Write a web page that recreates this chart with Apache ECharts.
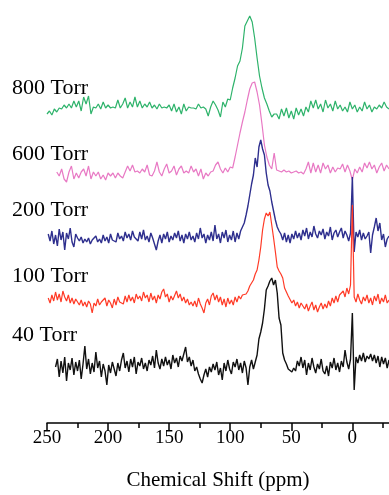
<!DOCTYPE html>
<html>
<head>
<meta charset="utf-8">
<title>Chemical Shift spectra</title>
<script src="https://cdn.jsdelivr.net/npm/echarts@6/dist/echarts.min.js"></script>
<style>
  html, body { margin: 0; padding: 0; background: #fff; }
  #chart { width: 389px; height: 495px; }
</style>
</head>
<body>
<div id="chart"></div>
<script>
// Tick positions on the chemical-shift axis (ppm)
const majorTicks = [250, 200, 150, 100, 50, 0];
const minorTicks = [225, 175, 125, 75, 25, -25];

// Spectrum labels, top to bottom
const labels = ['800 Torr', '600 Torr', '200 Torr', '100 Torr', '40 Torr'];

// Sampling of each spectrum: first ppm value and spacing (ppm)
const startPpm = [250, 242, 249, 249, 243];
const stepPpm = [2, 2, 1.5, 1.5, 1.5];

// Intensities (arbitrary units, baseline = 0)
const torr800 = [
  -6,-3,-7,-1,-4,0,-1,3,0,4,
  0,7,1,7,-3,11,4,12,-6,1,
  0,4,-1,6,0,3,0,1,0,8,
  0,4,10,0,6,1,11,1,7,0,
  4,1,6,0,3,-1,4,0,1,0,
  3,-3,4,-4,1,-6,4,-3,1,0,
  0,-1,4,0,1,-1,-8,1,7,3,
  -2,-9,6,1,9,8,20,30,42,47,
  60,82,87,92,86,70,50,32,20,10,
  4,-3,-9,-6,
  -6,-11,-1,-8,0,-10,-3,-11,0,-7,
  -1,-8,1,-4,7,0,8,-1,4,-4,
  8,0,4,-3,7,-1,3,-3,1,-4,
  6,-1,3,-4,1,-3,6,-1,3,-4,
  1,-1,3,0,6,1,-1
];

const torr600 = [
  0,-4,3,-7,-10,0,6,-7,-1,-6,
  0,3,-4,6,-7,0,-4,0,-7,-3,
  -8,-1,-4,-1,-6,-1,-4,-6,0,6,
  1,7,0,1,-1,3,0,7,-3,-4,
  1,10,0,-4,3,8,-1,1,6,-3,
  3,6,-1,1,-1,6,0,3,-4,3,
  -7,-1,-4,0,1,7,10,
  3,-1,4,0,5,4,15,27,39,50,
  60,72,83,89,90,80,67,48,27,15,
  7,3,19,2,
  1,0,2,0,1,-1,0,1,-1,0,-2,
  3,10,-1,9,0,7,-1,9,3,7,
  -1,5,0,4,3,8,0,7,1,-8,
  3,-1,5,0,9,4,10,3,7,-1,
  5,9,1,7,3
];

const torr200 = [
  3,-4,6,-7,2,-9,8,-3,5,-13,
  4,-2,9,-5,-10,3,-1,-4,0,-6,
  -2,-5,-1,-7,-3,-4,1,-5,-2,-6,
  2,-4,0,-6,3,-3,-1,-5,4,-2,
  1,-4,5,-1,3,-3,6,0,2,-4,
  5,-2,7,-3,1,-5,4,-1,-2,-13,
  -4,2,-6,3,-2,5,-5,1,-3,4,
  -1,6,-4,2,-6,3,-2,5,-3,1,
  -5,4,-2,9,-1,3,-6,2,-3,5,
  -4,12,-2,3,-6,5,-1,7,-5,2,
  -3,6,-5,4,-2,6,7,14,22,31,
  42,53,62,79,70,90,97,88,82,64,
  52,46,35,26,17,10,6,3,-3,4,
  -5,2,-6,3,-2,6,-1,4,-3,7,
  1,9,-2,5,0,11,3,-1,6,2,
  8,-2,5,1,10,-3,4,7,0,5,
  9,-1,6,2,-4,4,60,
  -15,5,0,7,-3,4,-2,1,5,-16,
  2,10,19,6,14,-3,3,-10,-2,1
];

const torr100 = [
  2,-3,5,-1,8,0,6,-2,9,3,
  -1,5,-3,2,-4,1,-2,-5,0,-6,
  -2,-7,-1,-4,-13,-3,-6,1,-5,-2,
  -4,2,-6,0,-3,-8,1,-5,3,-2,
  0,-4,4,-2,5,-1,3,-3,6,1,
  4,-1,8,2,5,-2,7,0,4,-3,
  5,1,8,11,3,6,-2,4,0,-1,
  9,2,6,-1,3,-3,1,-5,-2,-6,
  -1,-7,2,-4,-8,-13,-3,1,-5,4,
  7,0,5,-2,3,-5,1,-7,2,-4,
  0,-5,3,-2,4,1,5,3,6,9,
  14,17,20,26,30,40,53,70,81,87,
  84,88,75,62,48,33,29,26,22,12,
  8,4,2,-3,0,-6,-2,-8,-3,-5,
  -9,-4,-11,-6,-2,-10,-5,-12,-7,-3,
  -9,-4,-8,-1,-6,2,-3,4,-2,5,
  4,9,3,12,6,15,95,
  3,-2,6,0,-4,3,-1,5,-3,2,
  -5,4,-1,6,-4,2,-2,5,-3,0
];

const torr40 = [
  -2,6,-12,4,-8,8,-16,2,-5,7,
  -10,3,-6,5,-14,1,19,-4,6,-9,
  2,-7,13,-3,4,-12,1,-6,-20,0,
  -8,3,-4,-11,2,-6,5,12,-3,4,
  -7,6,-2,8,-9,3,-1,7,-4,2,
  -6,5,0,9,-3,15,2,-4,6,-1,
  8,0,5,-4,10,2,7,-2,9,4,
  6,18,3,8,-1,5,-6,-2,-9,-14,
  -18,-10,-4,-12,-2,-7,1,-5,3,-10,
  -3,-15,2,-6,5,-4,-9,3,-2,6,
  -5,2,-8,4,-3,-20,-2,5,-4,
  3,10,26,33,42,56,75,79,84,87,80,85,72,47,40,12,5,1,
  -4,-2,-7,-3,-6,4,-1,8,-3,5,
  -10,2,-5,7,-2,-8,1,-4,6,-6,
  -9,-1,-11,3,-3,7,-5,2,-7,4,
  -2,15,3,-4,6,52,
  -25,8,2,10,4,12,3,9,6,11,
  4,10,2,9,-2,8,1,7,-3,5
];

const spectra = [torr800, torr600, torr200, torr100, torr40];

// Vertical stacking of the traces (same units as the hidden y axis)
const stackOffsets = [315, 251, 186, 123, 58];
// Label anchor heights (pixels from top)
const labelY = [88, 154, 210, 276, 335];
const colors = ['#2eb36b', '#e879c4', '#2e2f8e', '#ff3a26', '#111111'];
const widths = [1.2, 1.2, 1.4, 1.2, 1.4];

const serif = '"Liberation Serif", "Times New Roman", serif';

const series = spectra.map((vals, s) => ({
  name: labels[s],
  type: 'line',
  showSymbol: false,
  symbol: 'none',
  animation: false,
  clip: true,
  lineStyle: { color: colors[s], width: widths[s] },
  data: vals.map((v, i) => [startPpm[s] - i * stepPpm[s], stackOffsets[s] + v])
}));

const chart = echarts.init(document.getElementById('chart'), null, { renderer: 'canvas' });
chart.setOption({
  backgroundColor: '#fff',
  animation: false,
  textStyle: { fontFamily: serif },
  grid: { left: 47, right: 0, top: 0, bottom: 72, outerBoundsMode: 'none' },
  xAxis: [
    {
      type: 'value',
      inverse: true,
      min: -30,
      max: 250,
      position: 'bottom',
      name: 'Chemical Shift (ppm)',
      nameLocation: 'middle',
      nameGap: 47,
      nameTextStyle: { fontFamily: serif, fontSize: 21, color: '#000' },
      axisLine: { show: true, lineStyle: { color: '#000', width: 1.5 } },
      axisTick: { show: true, customValues: majorTicks, length: 8, lineStyle: { color: '#000', width: 1.5 } },
      axisLabel: { customValues: majorTicks, fontFamily: serif, fontSize: 19, color: '#000', margin: 6 },
      splitLine: { show: false }
    },
    {
      type: 'value',
      inverse: true,
      min: -30,
      max: 250,
      position: 'bottom',
      axisLine: { show: false },
      axisTick: { show: true, customValues: minorTicks, length: 5, lineStyle: { color: '#000', width: 1.5 } },
      axisLabel: { show: false },
      splitLine: { show: false }
    }
  ],
  yAxis: { type: 'value', min: 0, max: 423, show: false },
  graphic: labels.map((t, s) => ({
    type: 'text',
    x: 12,
    y: labelY[s],
    style: { text: t, font: '22px ' + serif, fill: '#000', verticalAlign: 'middle' }
  })),
  series: series
});
</script>
</body>
</html>
